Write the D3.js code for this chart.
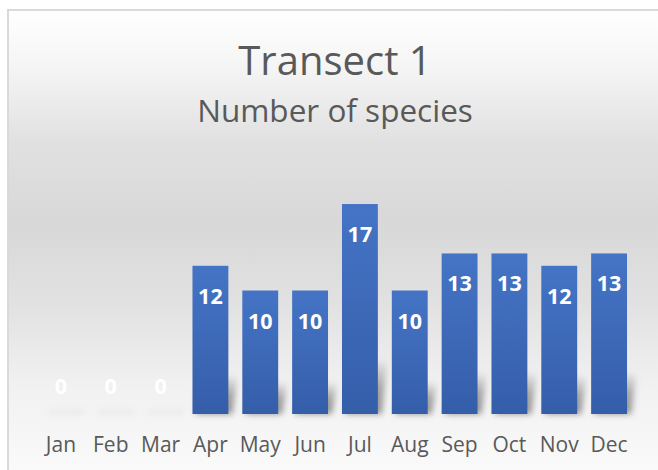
<!DOCTYPE html>
<html>
<head>
<meta charset="utf-8">
<script src="https://cdn.jsdelivr.net/npm/d3@7/dist/d3.min.js"></script>
<style>
  html, body { margin: 0; padding: 0; background: #ffffff; }
  svg { display: block; }
</style>
</head>
<body>
<svg id="chart" width="658" height="470"></svg>
<script>
const months = ["Jan","Feb","Mar","Apr","May","Jun","Jul","Aug","Sep","Oct","Nov","Dec"];
const species = [0, 0, 0, 12, 10, 10, 17, 10, 13, 13, 12, 13];
const titleText = "Transect 1";
const subtitleText = "Number of species";

const W = 658, H = 470;
const svg = d3.select("#chart");
const defs = svg.append("defs");

// background gradient
const bg = defs.append("linearGradient").attr("id", "bgGrad")
  .attr("gradientUnits", "userSpaceOnUse")
  .attr("x1", 0).attr("y1", 10).attr("x2", 0).attr("y2", 480);
[[0, "#ffffff"], [0.12, "#f5f5f5"], [0.28, "#e1e1e1"], [0.45, "#d8d8d8"], [0.62, "#e1e1e1"], [0.8, "#f1f1f1"], [1, "#fbfbfb"]]
  .forEach(([o, c]) => bg.append("stop").attr("offset", o).attr("stop-color", c));

// bar gradient
const bar = defs.append("linearGradient").attr("id", "barGrad")
  .attr("x1", 0).attr("y1", 0).attr("x2", 0).attr("y2", 1);
bar.append("stop").attr("offset", 0).attr("stop-color", "#4574c6");
bar.append("stop").attr("offset", 1).attr("stop-color", "#355ea9");

// shadow blur
defs.append("filter").attr("id", "blur").attr("x", "-50%").attr("y", "-50%").attr("width", "200%").attr("height", "200%")
  .append("feGaussianBlur").attr("stdDeviation", 3);

const shGrad = defs.append("linearGradient").attr("id", "shGrad")
  .attr("x1", 0).attr("y1", 0).attr("x2", 0).attr("y2", 1);
shGrad.append("stop").attr("offset", 0).attr("stop-color", "#8a8a8a").attr("stop-opacity", 0.1);
shGrad.append("stop").attr("offset", 0.5).attr("stop-color", "#8a8a8a").attr("stop-opacity", 0.75);
shGrad.append("stop").attr("offset", 1).attr("stop-color", "#8a8a8a").attr("stop-opacity", 0.95);

// chart area with border
svg.append("rect")
  .attr("x", 8).attr("y", 10).attr("width", W + 20).attr("height", H + 20)
  .attr("fill", "url(#bgGrad)")
  .attr("stroke", "#d9d9d9").attr("stroke-width", 2);

// titles
svg.append("text").attr("x", 335).attr("y", 75).attr("text-anchor", "middle")
  .attr("font-family", "'Open Sans', sans-serif").attr("font-size", 40).attr("fill", "#595959")
  .text(titleText);
svg.append("text").attr("x", 335).attr("y", 122).attr("text-anchor", "middle")
  .attr("font-family", "'Open Sans', sans-serif").attr("font-size", 31.5).attr("fill", "#595959")
  .text(subtitleText);

// scales
const x = d3.scaleBand().domain(months).range([36, 634]).paddingInner(0.28).paddingOuter(0.14);
const y = d3.scaleLinear().domain([0, 20]).range([414, 167]);

const data = months.map((m, i) => ({ m, v: species[i] }));

// shadows
const sh = svg.append("g").attr("filter", "url(#blur)");
sh.selectAll("path").data(data).join("path")
  .attr("d", d => {
    const x0 = x(d.m), w = x.bandwidth(), b = y(0);
    const h = Math.max(4, (b - y(d.v)) * 0.25);
    const sk = 9;
    return `M${x0 + 3},${b} L${x0 + w + 4},${b} L${x0 + w + sk},${b - h} L${x0 + sk},${b - h} Z`;
  })
  .attr("fill", "url(#shGrad)")
  .attr("opacity", d => d.v === 0 ? 0.2 : 1);

// bars
svg.append("g").selectAll("rect").data(data).join("rect")
  .attr("x", d => x(d.m))
  .attr("y", d => y(d.v))
  .attr("width", x.bandwidth())
  .attr("height", d => y(0) - y(d.v))
  .attr("fill", "url(#barGrad)");

// value labels
svg.append("g").selectAll("text").data(data).join("text")
  .attr("x", d => x(d.m) + x.bandwidth() / 2)
  .attr("y", d => d.v === 0 ? y(0) - 20 : y(d.v) + 38)
  .attr("text-anchor", "middle")
  .attr("font-family", "'Open Sans', sans-serif").attr("font-weight", "bold").attr("font-size", 21.5)
  .attr("fill", "#ffffff")
  .text(d => d.v);

// x axis
const xAxis = svg.append("g").attr("transform", `translate(0,${y(0)})`)
  .call(d3.axisBottom(x).tickSize(0).tickPadding(38));
xAxis.select(".domain").remove();
xAxis.selectAll("text")
  .attr("font-family", "'Open Sans', sans-serif").attr("font-size", 21).attr("fill", "#595959")
  .attr("dy", 0);
</script>
</body>
</html>
